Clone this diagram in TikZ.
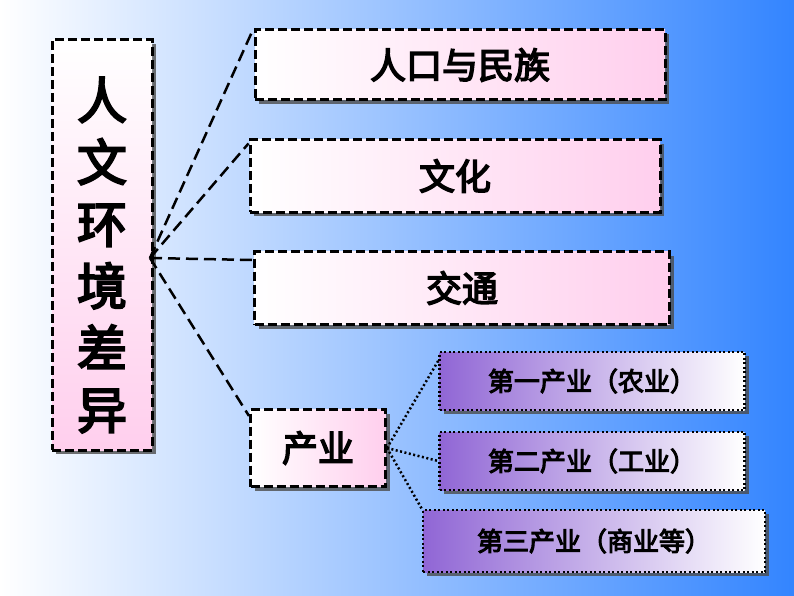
\documentclass[tikz,border=0pt]{standalone}
\usepackage{fontspec}
\newfontfamily\cjk[AutoFakeBold=4]{Noto Sans CJK SC}
\usetikzlibrary{shadows}
\begin{document}
\begin{tikzpicture}[x=1pt,y=-1pt,
 pinkbox/.style={draw=black,line width=3pt,dash pattern=on 9pt off 4pt,shade,left color=white,right color=pink!70!magenta!40,drop shadow={shadow xshift=4pt,shadow yshift=-4pt,fill=black!70,opacity=.8}},
 purpbox/.style={draw=black,line width=2.5pt,dash pattern=on 2pt off 2.5pt,shade,left color=violet!55!blue!60,right color=white,drop shadow={shadow xshift=4pt,shadow yshift=-4pt,fill=black!70,opacity=.8}},
 dline/.style={line width=2.5pt,dash pattern=on 12pt off 6pt},
 tline/.style={line width=2.5pt,dash pattern=on 2pt off 2.5pt},
 big/.style={font=\cjk\bfseries\fontsize{36}{40}\selectfont},
 small/.style={font=\cjk\bfseries\fontsize{26}{28}\selectfont}]
\shade[top color=white,bottom color=blue!55!cyan!70,shading angle=135,left color=white,right color=blue!60!cyan!80] (0,0) rectangle (794,596);
\node[pinkbox,minimum width=100,minimum height=410,shade,top color=white,bottom color=pink!70!magenta!40] (L) at (102,245) {};
\node[font=\cjk\bfseries\fontsize{50}{62}\selectfont,align=center] (Lt) at (102,255) {人\\文\\环\\境\\差\\异};
\node[pinkbox,minimum width=410,minimum height=70,big] (a) at (460,65) {人口与民族};
\node[pinkbox,minimum width=410,minimum height=72,big] (b) at (455,176) {文化};
\node[pinkbox,minimum width=415,minimum height=73,big] (c) at (462,288) {交通};
\node[pinkbox,minimum width=135,minimum height=77,big] (d) at (318,448) {产业};
\node[purpbox,minimum width=305,minimum height=58,small] (e) at (592,381) {第一产业（农业）};
\node[purpbox,minimum width=305,minimum height=58,small] (f) at (592,461) {第二产业（工业）};
\node[purpbox,minimum width=342,minimum height=62,small] (g) at (594,541) {第三产业（商业等）};
\coordinate (h) at (150,258);
\draw[dline] (h) -- (a.north west);
\draw[dline] (h) -- ([yshift=-5pt]b.north west);
\draw[dline] (h) -- ([yshift=-10pt]c.north west);
\draw[dline] (h) -- ([yshift=-8pt]d.north west);
\draw[tline] (d.east) -- ([yshift=-10pt]e.north west);
\draw[tline] (d.east) -- (f.west);
\draw[tline] (d.east) -- (g.north west);
\end{tikzpicture}
\end{document}
